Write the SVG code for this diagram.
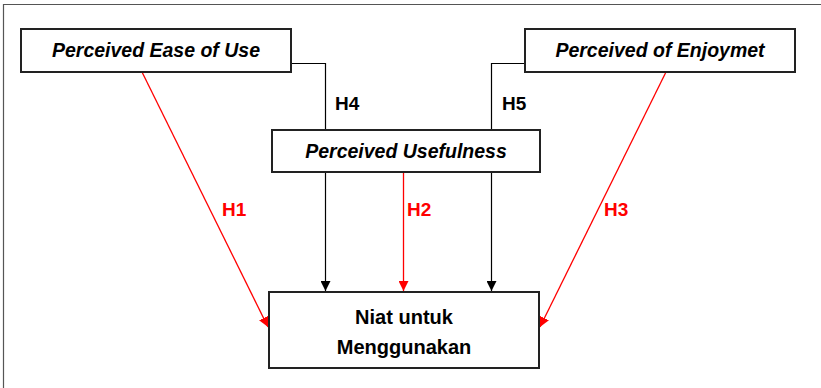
<svg xmlns="http://www.w3.org/2000/svg" width="821" height="388" viewBox="0 0 821 388">
<defs>
<style>
.box{fill:#fff;stroke:#222;stroke-width:2}
.t{font-family:"Liberation Sans",Arial,sans-serif;font-weight:bold;font-size:19.5px;fill:#000;text-anchor:middle}
.i{font-style:italic}
.n{font-size:20px}
.h{font-family:"Liberation Sans",Arial,sans-serif;font-weight:bold;font-size:19px}
.blk{stroke:#000;stroke-width:1.2;fill:none}
.red{stroke:#ff0000;stroke-width:1.3;fill:none}
</style>
<marker id="ab" viewBox="0 0 10 10" refX="10" refY="5" markerWidth="10" markerHeight="10" markerUnits="userSpaceOnUse" orient="auto"><path d="M0,0L10,5L0,10z" fill="#000"/></marker>
<marker id="ar" viewBox="0 0 10 10" refX="10" refY="5" markerWidth="10" markerHeight="10" markerUnits="userSpaceOnUse" orient="auto"><path d="M0,0L10,5L0,10z" fill="#ff0000"/></marker>
</defs>
<rect width="821" height="388" fill="#fff"/>
<path d="M3.5,388V4.5H821" fill="none" stroke="#555" stroke-width="1.2"/>
<g id="connectors">
<path class="blk" d="M291,63.5H325.5V130"/>
<path class="blk" d="M525,63.5H491.5V130"/>
<path class="blk" d="M325.5,172V291" marker-end="url(#ab)"/>
<path class="blk" d="M491.5,172V291" marker-end="url(#ab)"/>
<path class="red" d="M403.5,172V291" marker-end="url(#ar)"/>
<path class="red" d="M142,72L268,327" marker-end="url(#ar)"/>
<path class="red" d="M666,72L540,327" marker-end="url(#ar)"/>
<text class="h" x="335" y="110">H4</text>
<text class="h" x="502" y="110">H5</text>
<text class="h" x="222" y="216" fill="#ff0000">H1</text>
<text class="h" x="407" y="216" fill="#ff0000">H2</text>
<text class="h" x="604" y="216" fill="#ff0000">H3</text>
</g>
<g id="peou">
<rect class="box" x="21" y="29" width="270" height="43"/>
<text class="t i" x="156" y="57">Perceived Ease of Use</text>
</g>
<g id="pe">
<rect class="box" x="525" y="29" width="270" height="43"/>
<text class="t i" x="660" y="57">Perceived of Enjoymet</text>
</g>
<g id="pu">
<rect class="box" x="272" y="130" width="268" height="42"/>
<text class="t i" x="406" y="158">Perceived Usefulness</text>
</g>
<g id="niat">
<rect class="box" x="269" y="292" width="270" height="76"/>
<text class="t n" x="404" y="324">Niat untuk</text>
<text class="t n" x="404" y="354">Menggunakan</text>
</g>
</svg>
